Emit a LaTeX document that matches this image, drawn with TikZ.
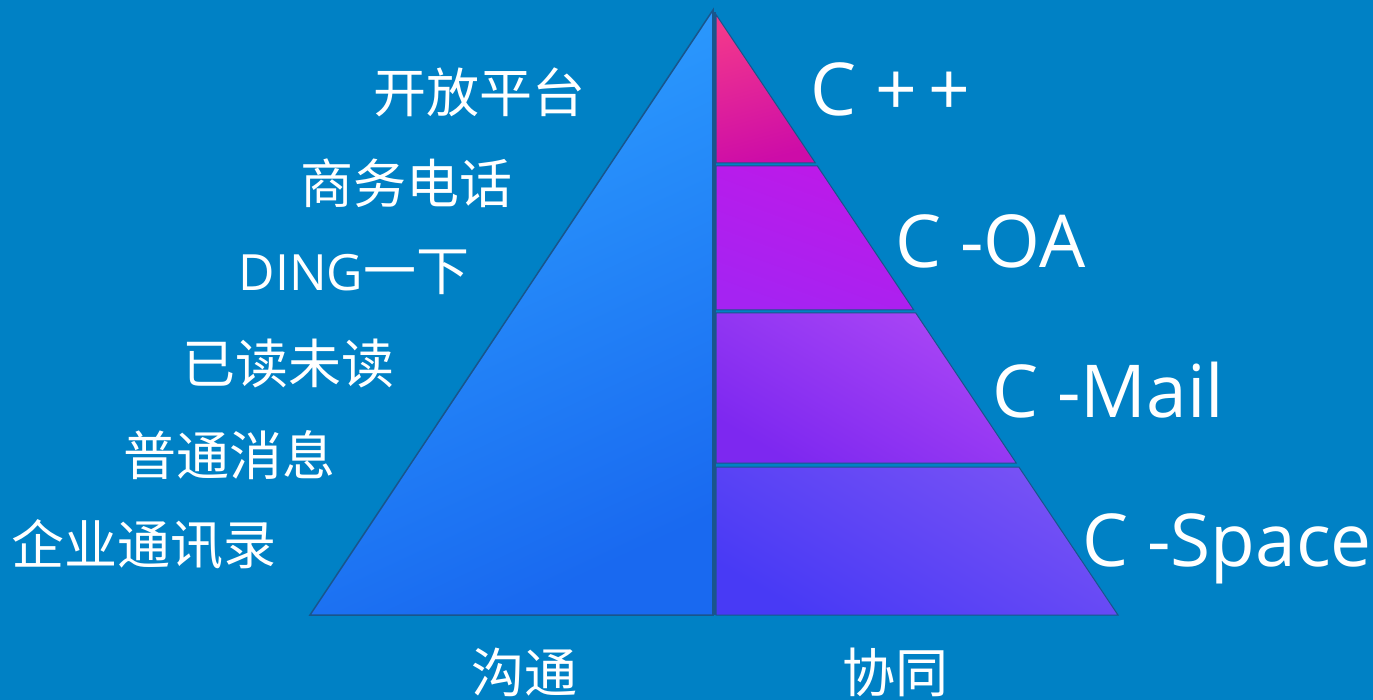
\documentclass[tikz,border=0pt]{standalone}
\usepackage{fontspec}
\setmainfont{Noto Sans CJK SC}
\newfontfamily\latinfont{Open Sans}
\definecolor{bg}{RGB}{0,129,197}
\definecolor{edge}{RGB}{25,85,140}
\definecolor{lA}{RGB}{45,160,255}
\definecolor{lB}{RGB}{25,105,240}
\definecolor{pA}{RGB}{242,55,140}
\definecolor{pB}{RGB}{205,12,168}
\definecolor{mA}{RGB}{190,25,232}
\definecolor{mB}{RGB}{165,35,242}
\definecolor{vA}{RGB}{125,40,240}
\definecolor{vB}{RGB}{170,70,245}
\definecolor{uA}{RGB}{72,58,245}
\definecolor{uB}{RGB}{120,82,245}
\tikzset{
  lbl/.style={text=white,inner sep=0pt,font=\fontsize{53}{53}\selectfont},
  clbl/.style={text=white,inner sep=0pt,anchor=base west,font=\latinfont\fontsize{73}{73}\selectfont},
  band/.style={draw=edge,line width=1pt,shading=axis},
}
\begin{document}
\begin{tikzpicture}[x=1pt,y=-1pt]
\fill[bg] (0,0) rectangle (1373,700);
\useasboundingbox (0,0) rectangle (1373,700);
% left half
\shade[draw=edge,line width=1.5pt,shading=axis,top color=lA,bottom color=lB,shading angle=25]
  (713,10) -- (310,615) -- (713,615) -- cycle;
\fill[edge] (711.5,12) rectangle (716,615);
% right bands
\shade[band,top color=pA,bottom color=pB,shading angle=15] (716,14.5) -- (815.4,163) -- (716,163) -- cycle;
\shade[band,top color=mA,bottom color=mB,shading angle=-20] (716,166) -- (817.4,166) -- (913.8,310) -- (716,310) -- cycle;
\shade[band,top color=vB,bottom color=vA,shading angle=-30] (716,313) -- (915.8,313) -- (1016.2,463) -- (716,463) -- cycle;
\shade[band,top color=uB,bottom color=uA,shading angle=-30] (716,467) -- (1018.9,467) -- (1118,615) -- (716,615) -- cycle;
% left labels
\node[lbl] (t1) at (479,92) {开放平台};
\node[lbl] (t2) at (406,183) {商务电话};
\node[lbl] (t3) at (354,272) {{\latinfont\fontsize{50}{50}\selectfont DING}一下};
\node[lbl] (t4) at (288,363) {已读未读};
\node[lbl] (t5) at (229,455) {普通消息};
\node[lbl] (t6) at (144,545) {企业通讯录};
\node[lbl] (b1) at (524,672) {沟通};
\node[lbl] (b2) at (895,672) {协同};
% right labels
\node[clbl] (c1) at (810,116) {C +\kern12pt+};
\node[clbl] (c2) at (895,268) {C -OA};
\node[clbl] (c3) at (992,417) {C -Mail};
\node[clbl] (c4) at (1082,566) {C -Space};
\end{tikzpicture}
\end{document}
